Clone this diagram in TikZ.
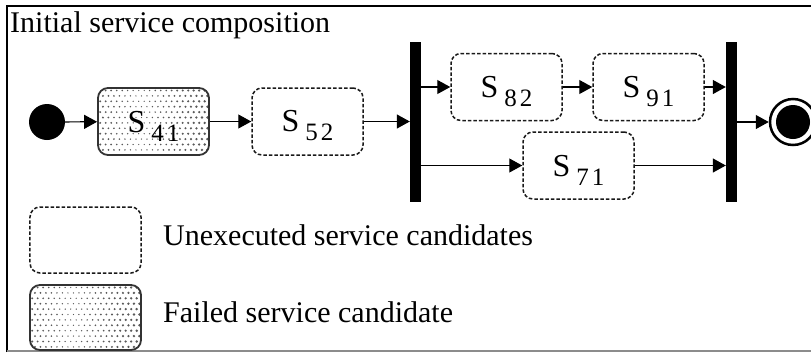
\documentclass[tikz,border=0pt]{standalone}
\usepackage{fontspec}
\setmainfont{Liberation Serif}
\usetikzlibrary{arrows.meta}

% service label: large S with spaced, lowered index digits
\newcommand\svclabel[2]{\rule{0pt}{30bp}{\fontsize{32bp}{32bp}\selectfont S}\hspace{6bp}\raisebox{-9bp}{\fontsize{25bp}{25bp}\selectfont #1\hspace{3bp}#2}}

\tikzset{
  svcbox/.style={rectangle, rounded corners=10bp, minimum width=111bp, minimum height=67bp,
    inner sep=0pt, line width=1.5bp},
  unexec/.style={svcbox, draw=black!90, dash pattern=on 3.5bp off 2bp},
  failed/.style={svcbox, draw=black!80, line width=1.8bp,
    path picture={
      \foreach \i in {0,...,20}{
        \foreach \j in {0,...,12}{
          \pgfmathsetmacro\dx{2.2+\i*5.5+mod(\j,2)*2.75}
          \pgfmathsetmacro\dy{2.5+\j*5.4}
          \pgfmathsetmacro\rr{0.65+1.2*abs(\dx/111-0.38)}
          \fill[black!65] (path picture bounding box.north west) ++(\dx bp,-\dy bp) circle[radius=\rr bp];
        }
      }
    }},
  syncbar/.style={rectangle, fill=black, minimum width=11bp, minimum height=160bp, inner sep=0pt},
  flow/.style={line width=1.2bp, -{Triangle[length=13bp,width=14bp]}},
  bigtext/.style={font=\fontsize{30bp}{30bp}\selectfont, inner sep=0pt, anchor=base west}
}

\begin{document}
\begin{tikzpicture}[x=1bp,y=-1bp]
  \useasboundingbox (0,0) rectangle (811,352);

  % frame
  \draw[line width=2bp] (7,352) -- (7,6) -- (811,6);
  \draw[line width=1.5bp, black!45] (7,351) -- (811,351);

  \node[bigtext] (title) at (10,32) {Initial service composition};

  % activity diagram
  \node[circle, fill=black, minimum size=36bp, inner sep=0pt] (start) at (47,122) {};
  \node[failed] (s41) at (153.5,121.5) {\svclabel{4}{1}};
  \node[unexec] (s52) at (307.5,121.5) {\svclabel{5}{2}};
  \node[syncbar] (fork) at (415.5,122) {};
  \node[unexec] (s82) at (506.5,87) {\svclabel{8}{2}};
  \node[unexec] (s91) at (648.5,87) {\svclabel{9}{1}};
  \node[unexec] (s71) at (578.5,165.5) {\svclabel{7}{1}};
  \node[syncbar] (join) at (731.5,122) {};
  \node[circle, draw=black, line width=2.5bp, fill=white, minimum size=46bp, inner sep=0pt] (finish) at (793,122) {};
  \node[circle, fill=black, minimum size=34bp, inner sep=0pt] (finishdot) at (finish) {};

  \draw[flow] (start) -- (s41);
  \draw[flow] (s41) -- (s52);
  \draw[flow] (s52) -- (s52 -| fork.west);
  \draw[flow] (fork.east |- s82) -- (s82);
  \draw[flow] (s82) -- (s91);
  \draw[flow] (s91) -- (s91 -| join.west);
  \draw[flow] (fork.east |- s71) -- (s71);
  \draw[flow] (s71) -- (s71 -| join.west);
  \draw[flow] (join.east |- finish) -- (finish);

  % legend
  \node[unexec, minimum height=66bp] (legunexec) at (85.5,240) {};
  \node[failed, minimum height=65bp] (legfailed) at (85.5,317.5) {};
  \node[bigtext] (unexectext) at (163,245) {Unexecuted service candidates};
  \node[bigtext] (failedtext) at (163,322) {Failed service candidate};
\end{tikzpicture}
\end{document}
